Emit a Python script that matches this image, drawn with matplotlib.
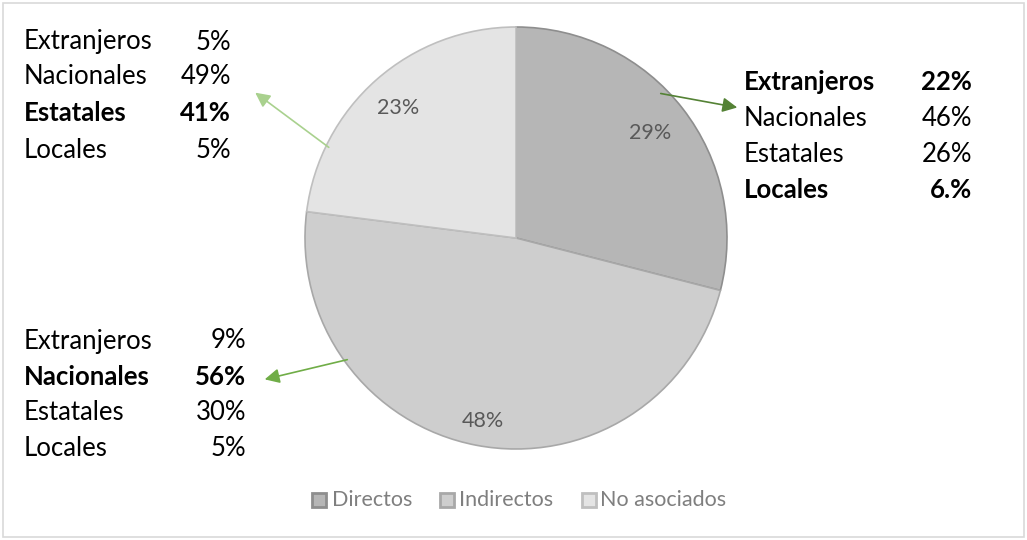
import matplotlib.pyplot as plt
from matplotlib.patches import Rectangle

W, H = 1027, 540

categorias = ['Directos', 'Indirectos', 'No asociados']
valores = [29, 48, 23]
colores = ['#b6b6b6', '#cecece', '#e4e4e4']
bordes = ['#8e8e8e', '#a8a8a8', '#bfbfbf']

tipos = ['Extranjeros', 'Nacionales', 'Estatales', 'Locales']
pct_directos = ['22%', '46%', '26%', '6.%']
neg_directos = [True, False, False, True]
pct_indirectos = ['9%', '56%', '30%', '5%']
neg_indirectos = [False, True, False, False]
pct_noasoc = ['5%', '49%', '41%', '5%']
neg_noasoc = [False, False, True, False]

plt.rcParams['font.family'] = ['Lato', 'DejaVu Sans']

fig = plt.figure(figsize=(W / 100, H / 100), dpi=100)
ax = fig.add_axes([0, 0, 1, 1])

def py(y):
    # pixel row -> data y
    return H - y

wedges, _ = ax.pie(valores, colors=colores, startangle=90, counterclock=False,
                   center=(516, py(238)), radius=211,
                   wedgeprops={'linewidth': 1.2})
for w, b in zip(wedges, bordes):
    w.set_edgecolor(b)

ax.set_xlim(0, W)
ax.set_ylim(0, H)
ax.set_aspect('equal')
ax.axis('off')

# borde del grafico
ax.add_patch(Rectangle((3, py(537)), 1021, 534, fill=False, edgecolor='#d9d9d9', linewidth=1.2))

# etiquetas de porcentaje dentro del pastel
pos_pct = [(650, 133), (483, 421), (398, 108)]
for v, (x, y) in zip(valores, pos_pct):
    ax.text(x, py(y), '{}%'.format(v), ha='center', va='center', fontsize=15.5, color='#595959')

def bloque(x_lab, x_val, ys, valores_txt, negritas):
    for t, v, n, y in zip(tipos, valores_txt, negritas, ys):
        peso = 'bold' if n else 'normal'
        ax.text(x_lab, py(y), t, ha='left', va='center', fontsize=18.5, color='black', fontweight=peso)
        ax.text(x_val, py(y), v, ha='right', va='center', fontsize=18.5, color='black', fontweight=peso)

bloque(24, 231, [42, 77, 113, 150], pct_noasoc, neg_noasoc)
bloque(744, 972, [82, 118, 155, 190], pct_directos, neg_directos)
bloque(24, 246, [341, 377, 412, 449], pct_indirectos, neg_indirectos)

# flechas
flechas = [((658, 93), (740, 108), '#548235'),
           ((331, 149), (253, 91), '#a9d18e'),
           ((350, 359), (262, 380), '#70ad47')]
for (x0, y0), (x1, y1), c in flechas:
    ax.annotate('', xy=(x1, py(y1)), xytext=(x0, py(y0)),
                arrowprops=dict(arrowstyle='-|>', color=c, lw=1.2, mutation_scale=22))

# leyenda
pos_ley = [(312, 332), (440, 459), (582, 600)]
for (xs, xt), cat, c, b in zip(pos_ley, categorias, colores, bordes):
    ax.add_patch(Rectangle((xs, py(507)), 14, 14, facecolor=c, edgecolor=b, linewidth=2))
    ax.text(xt, py(500), cat, ha='left', va='center', fontsize=15.5, color='#7f7f7f')

fig.savefig('out.png', dpi=100)
